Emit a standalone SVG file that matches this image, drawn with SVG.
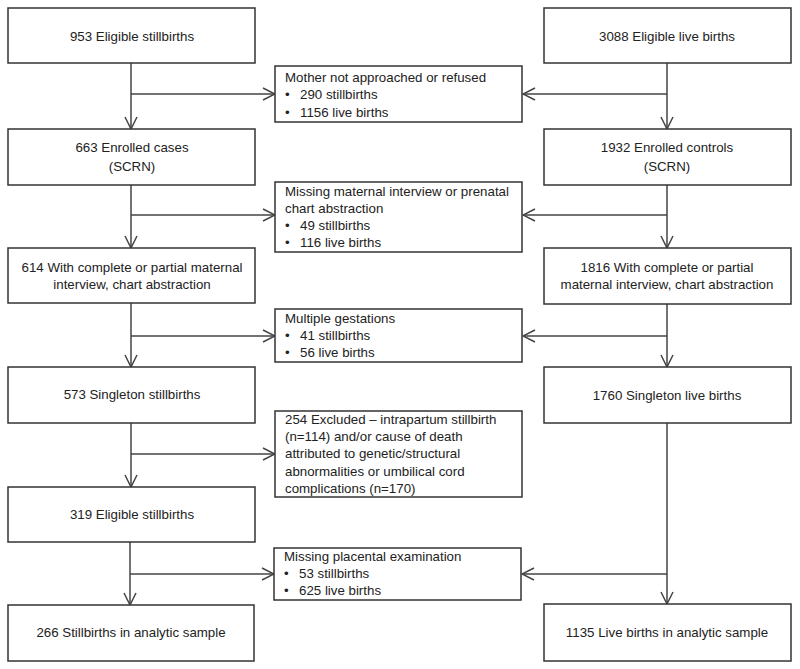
<svg xmlns="http://www.w3.org/2000/svg" width="800" height="669" viewBox="0 0 800 669">
<style>
.box{fill:#fff;stroke:#333;stroke-width:1.5}
.t{font-family:"Liberation Sans",Arial,sans-serif;font-size:13.3px;fill:#222}
.c{text-anchor:middle}
.ln{fill:none;stroke:#444;stroke-width:1.5}
</style>
<defs>
<marker id="a" viewBox="0 0 14 14" refX="13" refY="7" markerWidth="14" markerHeight="14" markerUnits="userSpaceOnUse" orient="auto">
<path d="M1,1 L13,7 L1,13" fill="none" stroke="#444" stroke-width="1.5"/>
</marker>
</defs>
<rect width="800" height="669" fill="#fff"/>
<g id="connectors">
<line class="ln" x1="131" y1="63" x2="131" y2="129" marker-end="url(#a)"/>
<line class="ln" x1="131" y1="185" x2="131" y2="248" marker-end="url(#a)"/>
<line class="ln" x1="131" y1="303" x2="131" y2="367" marker-end="url(#a)"/>
<line class="ln" x1="131" y1="423" x2="131" y2="487" marker-end="url(#a)"/>
<line class="ln" x1="130" y1="542" x2="130" y2="605" marker-end="url(#a)"/>
<line class="ln" x1="131" y1="94" x2="275" y2="94" marker-end="url(#a)"/>
<line class="ln" x1="131" y1="215" x2="275" y2="215" marker-end="url(#a)"/>
<line class="ln" x1="131" y1="336" x2="275" y2="336" marker-end="url(#a)"/>
<line class="ln" x1="131" y1="454" x2="275" y2="454" marker-end="url(#a)"/>
<line class="ln" x1="130" y1="574" x2="274" y2="574" marker-end="url(#a)"/>
<line class="ln" x1="667" y1="63" x2="667" y2="129" marker-end="url(#a)"/>
<line class="ln" x1="667" y1="185" x2="667" y2="248" marker-end="url(#a)"/>
<line class="ln" x1="667" y1="304" x2="667" y2="367" marker-end="url(#a)"/>
<line class="ln" x1="667" y1="423" x2="667" y2="604" marker-end="url(#a)"/>
<line class="ln" x1="667" y1="94" x2="523" y2="94" marker-end="url(#a)"/>
<line class="ln" x1="667" y1="215" x2="523" y2="215" marker-end="url(#a)"/>
<line class="ln" x1="667" y1="336" x2="523" y2="336" marker-end="url(#a)"/>
<line class="ln" x1="667" y1="574" x2="522" y2="574" marker-end="url(#a)"/>
</g>
<g id="L1"><rect class="box" x="8" y="8" width="247" height="55"/><text class="t c" x="132" y="41">953 Eligible stillbirths</text></g>
<g id="L2"><rect class="box" x="8" y="129" width="247" height="56"/><text class="t c" x="132" y="152">663 Enrolled cases</text><text class="t c" x="132" y="171">(SCRN)</text></g>
<g id="L3"><rect class="box" x="8" y="248" width="247" height="55"/><text class="t c" x="132" y="272">614 With complete or partial maternal</text><text class="t c" x="132" y="289">interview, chart abstraction</text></g>
<g id="L4"><rect class="box" x="8" y="367" width="247" height="56"/><text class="t c" x="132" y="399">573 Singleton stillbirths</text></g>
<g id="L5"><rect class="box" x="8" y="487" width="247" height="55"/><text class="t c" x="132" y="519">319 Eligible stillbirths</text></g>
<g id="L6"><rect class="box" x="8" y="605" width="246" height="56"/><text class="t c" x="131" y="637">266 Stillbirths in analytic sample</text></g>
<g id="R1"><rect class="box" x="544" y="8" width="247" height="55"/><text class="t c" x="667" y="41">3088 Eligible live births</text></g>
<g id="R2"><rect class="box" x="544" y="129" width="247" height="56"/><text class="t c" x="667" y="152">1932 Enrolled controls</text><text class="t c" x="667" y="171">(SCRN)</text></g>
<g id="R3"><rect class="box" x="544" y="248" width="247" height="56"/><text class="t c" x="667" y="272">1816 With complete or partial</text><text class="t c" x="667" y="289">maternal interview, chart abstraction</text></g>
<g id="R4"><rect class="box" x="544" y="367" width="247" height="56"/><text class="t c" x="667" y="400">1760 Singleton live births</text></g>
<g id="R6"><rect class="box" x="544" y="604" width="247" height="57"/><text class="t c" x="667" y="637">1135 Live births in analytic sample</text></g>
<g id="M1"><rect class="box" x="275" y="66" width="247" height="56"/>
<text class="t" x="285" y="82">Mother not approached or refused</text>
<text class="t" x="285" y="99">•</text><text class="t" x="300" y="99">290 stillbirths</text>
<text class="t" x="285" y="117">•</text><text class="t" x="300" y="117">1156 live births</text></g>
<g id="M2"><rect class="box" x="275" y="182" width="247" height="70"/>
<text class="t" x="285" y="196">Missing maternal interview or prenatal</text>
<text class="t" x="285" y="213">chart abstraction</text>
<text class="t" x="285" y="230">•</text><text class="t" x="300" y="230">49 stillbirths</text>
<text class="t" x="285" y="247">•</text><text class="t" x="300" y="247">116 live births</text></g>
<g id="M3"><rect class="box" x="275" y="309" width="247" height="53"/>
<text class="t" x="285" y="323">Multiple gestations</text>
<text class="t" x="285" y="340">•</text><text class="t" x="300" y="340">41 stillbirths</text>
<text class="t" x="285" y="357">•</text><text class="t" x="300" y="357">56 live births</text></g>
<g id="M4"><rect class="box" x="275" y="411" width="247" height="86"/>
<text class="t" x="285" y="424">254 Excluded – intrapartum stillbirth</text>
<text class="t" x="285" y="441">(n=114) and/or cause of death</text>
<text class="t" x="285" y="458">attributed to genetic/structural</text>
<text class="t" x="285" y="476">abnormalities or umbilical cord</text>
<text class="t" x="285" y="493">complications (n=170)</text></g>
<g id="M5"><rect class="box" x="274" y="548" width="247" height="52"/>
<text class="t" x="284" y="561">Missing placental examination</text>
<text class="t" x="284" y="578">•</text><text class="t" x="299" y="578">53 stillbirths</text>
<text class="t" x="284" y="595">•</text><text class="t" x="299" y="595">625 live births</text></g>
</svg>
